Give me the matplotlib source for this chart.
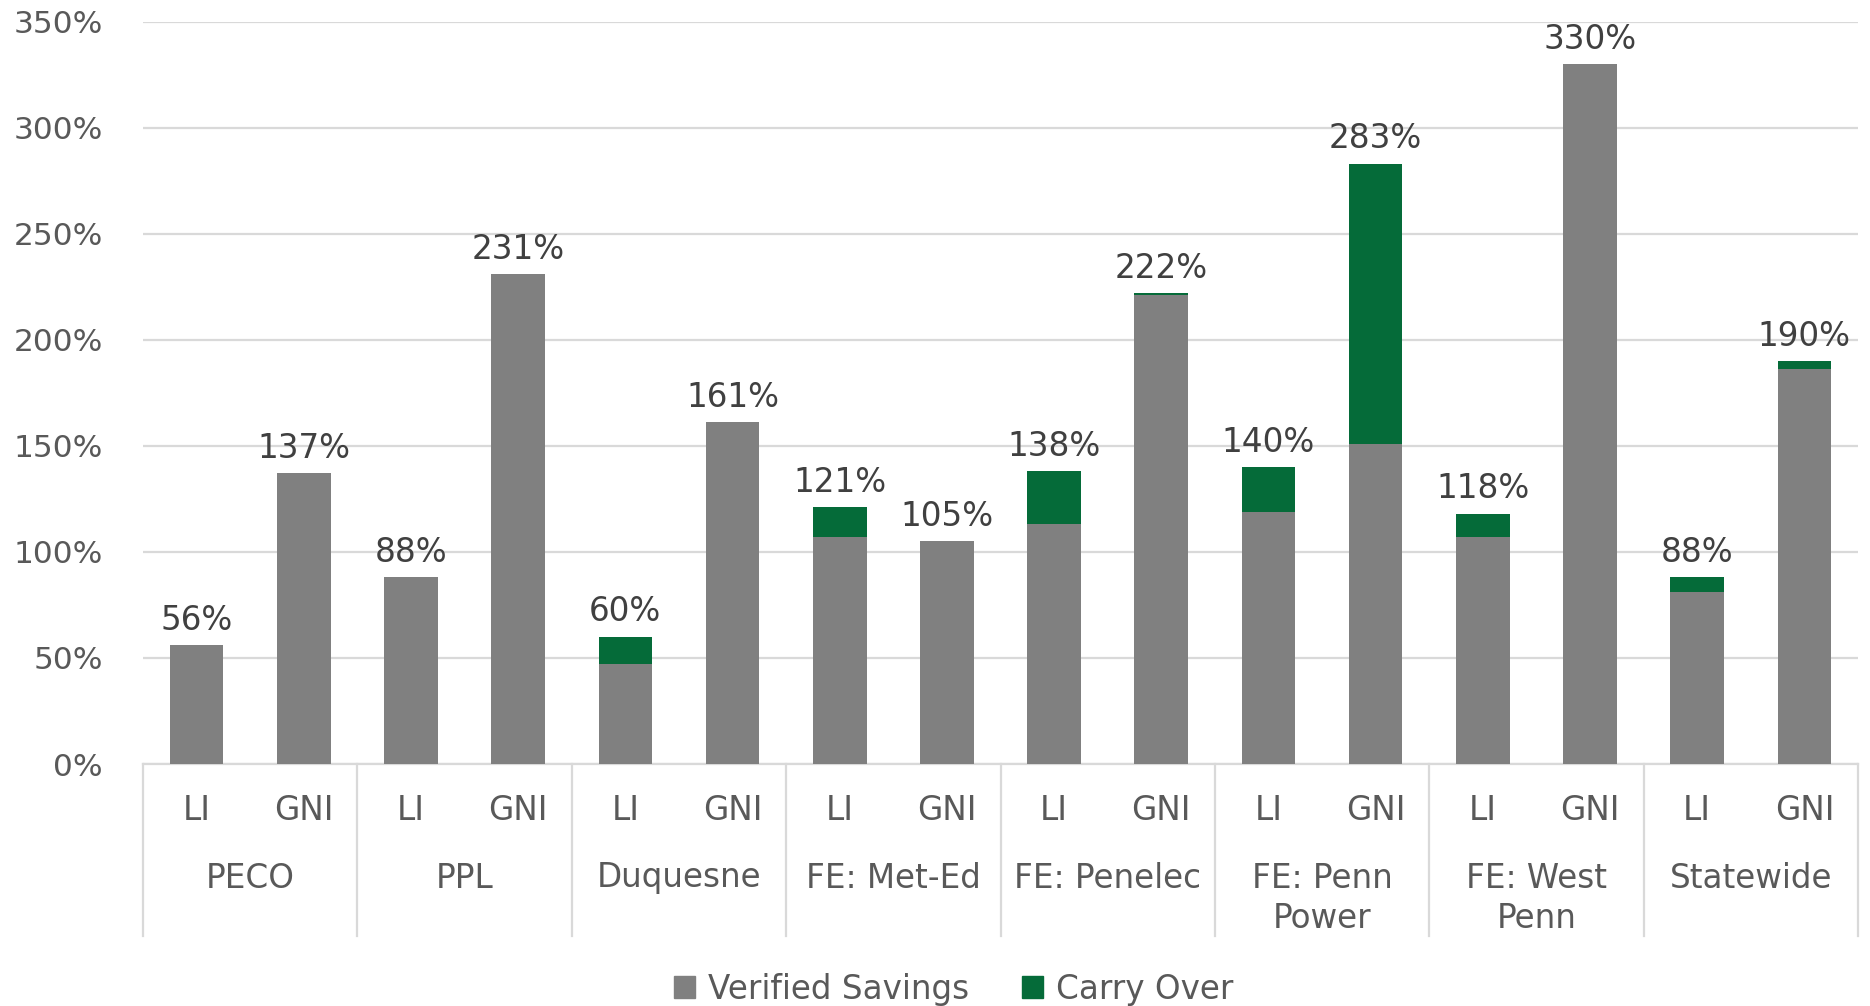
import matplotlib as mpl
import matplotlib.pyplot as plt
import matplotlib.transforms as mtransforms
from matplotlib.lines import Line2D
from matplotlib.patches import Patch

mpl.rcParams.update({
    "font.family": ["DejaVu Sans"],
    "font.size": 23,
})

groups = ["PECO", "PPL", "Duquesne", "FE: Met-Ed", "FE: Penelec",
          "FE: Penn\nPower", "FE: West\nPenn", "Statewide"]
subgroups = ["LI", "GNI"]
verified = [56, 137, 88, 231, 47, 161, 107, 105, 113, 221, 119, 151, 107, 330, 81, 186]
carry_over = [0, 0, 0, 0, 13, 0, 14, 0, 25, 1, 21, 132, 11, 0, 7, 4]

GRAY = "#808080"
GREEN = "#056B39"
GRID = "#D9D9D9"
TXT = "#595959"
FS = 23.5

W, H = 1870, 1006
fig = plt.figure(figsize=(W / 100, H / 100), dpi=100)
ax = fig.add_axes([143 / W, 1 - 764 / H, (1858 - 143) / W, (764 - 21.5) / H])

xs = list(range(len(verified)))
ax.bar(xs, verified, width=0.5, color=GRAY, zorder=3)
ax.bar(xs, carry_over, width=0.5, bottom=verified, color=GREEN, zorder=3)

for x, v, c in zip(xs, verified, carry_over):
    ax.annotate(f"{v + c}%", (x, v + c), xytext=(0, 6), textcoords="offset points",
                ha="center", va="bottom", fontsize=FS, color="#404040")

ax.set_xlim(-0.5, len(verified) - 0.5)
ax.set_ylim(0, 350)
ax.set_yticks(range(0, 351, 50))
ax.set_yticklabels([f"{t}%" for t in range(0, 351, 50)], color=TXT)
ax.tick_params(axis="y", length=0, pad=29, labelsize=22.5)
ax.set_xticks([])
ax.grid(axis="y", color=GRID, lw=1.6, zorder=0)
ax.set_axisbelow(True)
for s in ["top", "right", "left"]:
    ax.spines[s].set_visible(False)
ax.spines["bottom"].set_color(GRID)
ax.spines["bottom"].set_linewidth(1.6)

# multi-level category axis
tr = mtransforms.blended_transform_factory(ax.transData, fig.transFigure)
ybot = 1 - 936 / H
for i in range(len(groups) + 1):
    bx = i * 2 - 0.5
    ax.add_line(Line2D([bx, bx], [1 - 764 / H, ybot], transform=tr, color=GRID,
                       lw=1.6, clip_on=False))
for x in xs:
    ax.text(x, 1 - 811 / H, subgroups[x % 2], transform=tr, ha="center", va="center",
            fontsize=FS, color=TXT)
for g, name in enumerate(groups):
    for k, line in enumerate(name.split("\n")):
        ax.text(g * 2 + 0.5, 1 - (878 + 41 * k) / H, line, transform=tr,
                ha="center", va="center", fontsize=FS, color=TXT)

handles = [Patch(color=GRAY, label="Verified Savings"), Patch(color=GREEN, label="Carry Over")]
fig.legend(handles=handles, loc="center", bbox_to_anchor=(0.51, 1 - 989 / H), ncol=2,
           frameon=False, fontsize=FS, handlelength=0.65, handleheight=0.65,
           handletextpad=0.4, columnspacing=1.6, labelcolor=TXT)

fig.savefig("out.png", dpi=100)
